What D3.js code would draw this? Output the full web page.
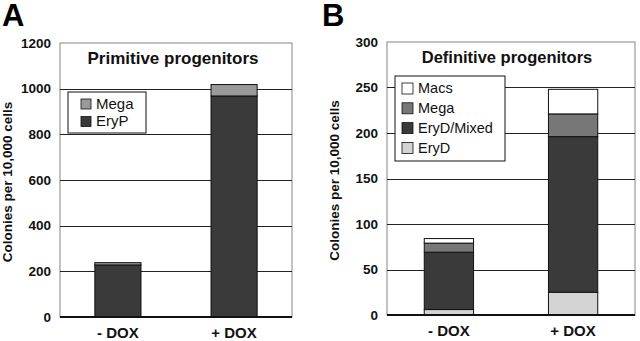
<!DOCTYPE html>
<html>
<head>
<meta charset="utf-8">
<script src="https://cdn.jsdelivr.net/npm/d3@7"></script>
<style>
  body { margin: 0; background: #fff; }
  svg { display: block; font-family: "Liberation Sans", Arial, sans-serif; }
  .tick text { font-weight: bold; }
</style>
</head>
<body>
<div id="chart"></div>
<script>
let width = 640,
    height = 341;

// panel A data
const groupsA = ["- DOX", "+ DOX"];
const keysA = ["EryP", "Mega"];
const eryP = [228, 968];
const megaA = [10, 50];
const ticksA = [0, 200, 400, 600, 800, 1000, 1200];

// panel B data
const groupsB = ["- DOX", "+ DOX"];
const keysB = ["EryD", "EryD/Mixed", "Mega", "Macs"];
const eryD = [6, 25];
const eryDMixed = [63, 171];
const megaB = [10, 25];
const macs = [5, 27];
const ticksB = [0, 50, 100, 150, 200, 250, 300];

const svg = d3.select("#chart")
  .append("svg")
  .attr("width", width)
  .attr("height", height);

function drawPanel(opt) {
  let x = d3.scaleBand()
    .domain(opt.groups)
    .range([opt.left, opt.right])
    .paddingInner(0.603)
    .paddingOuter(0.3);

  let y = d3.scaleLinear()
    .domain([0, opt.max])
    .range([opt.bottom, opt.top]);

  let g = svg.append("g");

  // frame
  g.append("rect")
    .attr("x", opt.left)
    .attr("y", opt.top)
    .attr("width", opt.right - opt.left)
    .attr("height", opt.bottom - opt.top)
    .attr("fill", "#fff")
    .attr("stroke", "#999")
    .attr("stroke-width", 1.2);

  // gridlines
  g.selectAll(".grid")
    .data(opt.ticks.filter(d => d > 0 && d < opt.max))
    .join("line")
    .attr("x1", opt.left)
    .attr("x2", opt.right)
    .attr("y1", d => Math.round(y(d)) + 0.5)
    .attr("y2", d => Math.round(y(d)) + 0.5)
    .attr("stroke", "#222")
    .attr("stroke-width", 1.2);

  // y axis labels
  let ya = g.append("g")
    .attr("transform", `translate(${opt.left},0)`)
    .call(d3.axisLeft(y).tickValues(opt.ticks).tickSize(0).tickPadding(9).tickFormat(d => d));
  ya.select(".domain").remove();
  ya.selectAll("text").attr("font-size", 13.5).attr("font-family", "Liberation Sans, Arial, sans-serif").attr("fill", "#111");

  // stacked bars
  let stack = d3.stack().keys(opt.keys);
  let rows = opt.groups.map((gname, i) => {
    let r = { group: gname };
    opt.keys.forEach(k => r[k] = opt.values[k][i]);
    return r;
  });
  let series = stack(rows);

  g.selectAll(".layer")
    .data(series)
    .join("g")
    .attr("fill", d => opt.colors[d.key])
    .selectAll("rect")
    .data(d => d)
    .join("rect")
    .attr("x", d => x(d.data.group))
    .attr("y", d => y(d[1]))
    .attr("width", x.bandwidth())
    .attr("height", d => y(d[0]) - y(d[1]))
    .attr("stroke", "#111")
    .attr("stroke-width", 1);

  // x axis line
  g.append("line")
    .attr("x1", opt.left)
    .attr("x2", opt.right)
    .attr("y1", opt.bottom)
    .attr("y2", opt.bottom)
    .attr("stroke", "#111")
    .attr("stroke-width", 2);

  // x labels
  g.selectAll(".xl")
    .data(opt.groups)
    .join("text")
    .attr("x", d => x(d) + x.bandwidth() / 2)
    .attr("y", opt.bottom + 21)
    .attr("text-anchor", "middle")
    .attr("font-size", 15)
    .attr("font-weight", "bold")
    .attr("fill", "#111")
    .text(d => d);

  // title
  g.append("text")
    .attr("x", opt.titleX)
    .attr("y", opt.top + 21)
    .attr("text-anchor", "middle")
    .attr("font-size", opt.titleSize)
    .attr("font-weight", "bold")
    .attr("fill", "#111")
    .text(opt.title);

  // y axis title
  g.append("text")
    .attr("transform", `translate(${opt.ytitleX},${(opt.top + opt.bottom) / 2 + 2}) rotate(-90)`)
    .attr("text-anchor", "middle")
    .attr("font-size", 13.5)
    .attr("font-weight", "bold")
    .attr("fill", "#111")
    .text("Colonies per 10,000 cells");

  // panel letter
  g.append("text")
    .attr("x", opt.letterX)
    .attr("y", 26)
    .attr("font-size", 31)
    .attr("font-weight", "bold")
    .attr("fill", "#000")
    .text(opt.letter);

  // legend
  let L = opt.legend;
  let lg = g.append("g");
  lg.append("rect")
    .attr("x", L.x)
    .attr("y", L.y)
    .attr("width", L.w)
    .attr("height", L.h)
    .attr("fill", "#fff")
    .attr("stroke", "#111")
    .attr("stroke-width", 1);

  let items = opt.keys.slice().reverse();
  items.forEach((k, i) => {
    let cy = L.y + L.first + i * L.step;
    lg.append("rect")
      .attr("x", L.x + L.sx)
      .attr("y", cy - L.sw / 2)
      .attr("width", L.sw)
      .attr("height", L.sw)
      .attr("fill", opt.colors[k])
      .attr("stroke", "#111")
      .attr("stroke-width", 0.8);
    lg.append("text")
      .attr("x", L.x + L.tx)
      .attr("y", cy + 1)
      .attr("dominant-baseline", "middle")
      .attr("font-size", L.fs)
      .attr("fill", "#111")
      .text(k);
  });
}

drawPanel({
  letter: "A", letterX: 2,
  title: "Primitive progenitors", titleX: 173, titleSize: 17,
  groups: groupsA, keys: keysA,
  values: { "EryP": eryP, "Mega": megaA },
  colors: { "EryP": "#3a3a3a", "Mega": "#9a9a9a" },
  ticks: ticksA, max: 1200,
  left: 60, right: 292, top: 43, bottom: 317,
  ytitleX: 12,
  legend: { x: 68, y: 92, w: 78, h: 41, first: 12, step: 17.5, sx: 13, sw: 10, tx: 28, fs: 15 }
});

drawPanel({
  letter: "B", letterX: 322,
  title: "Definitive progenitors", titleX: 507, titleSize: 16.5,
  groups: groupsB, keys: keysB,
  values: { "EryD": eryD, "EryD/Mixed": eryDMixed, "Mega": megaB, "Macs": macs },
  colors: { "EryD": "#d4d4d4", "EryD/Mixed": "#3a3a3a", "Mega": "#777", "Macs": "#fff" },
  ticks: ticksB, max: 300,
  left: 387, right: 635, top: 42, bottom: 315,
  ytitleX: 339,
  legend: { x: 395, y: 76, w: 110, h: 85, first: 12.5, step: 19.8, sx: 7, sw: 11, tx: 23, fs: 14.5 }
});
</script>
</body>
</html>
